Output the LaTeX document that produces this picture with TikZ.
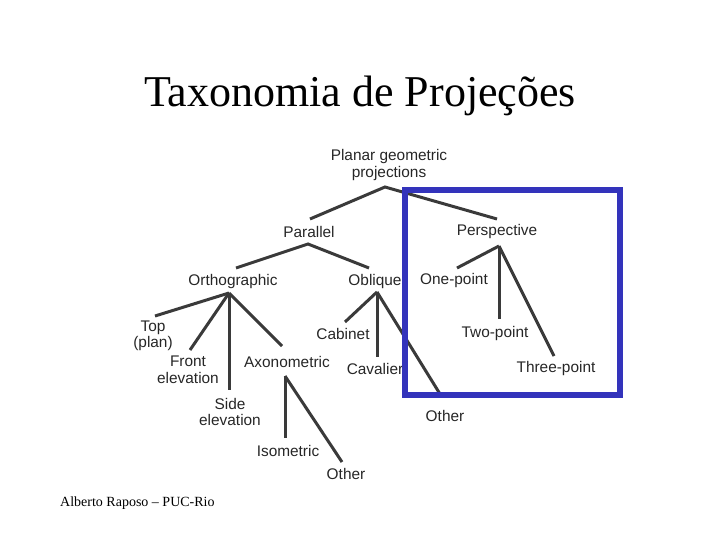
\documentclass[tikz,border=0pt]{standalone}
\usepackage{fontspec}
\setmainfont{Liberation Serif}
\newfontfamily\arialfont{Liberation Sans}
\definecolor{linegray}{RGB}{58,58,58}
\definecolor{boxblue}{RGB}{51,51,187}
\begin{document}
\begin{tikzpicture}[x=1pt,y=-1pt,
  lbl/.style={font=\arialfont\fontsize{15.4}{16.5}\selectfont,align=center,inner sep=0pt,text=black!85},
  edge/.style={draw=linegray,line width=3pt},
  frame/.style={draw=boxblue,line width=6pt}]
\useasboundingbox (0,0) rectangle (720,540);
% title and footer
\node[anchor=base,inner sep=0pt] (title) at (360,107) {\fontsize{44}{48}\selectfont Taxonomia de Projeções};
\node[anchor=west,inner sep=0pt] (foot) at (60,503) {\fontsize{14}{16}\selectfont Alberto Raposo -- PUC-Rio};
% nodes
\node[lbl] (pgp) at (389,165) {Planar geometric\\projections};
\node[lbl] (par) at (309,232) {Parallel};
\node[lbl] (per) at (497,232) {Perspective};
\node[lbl] (ort) at (233,282) {Orthographic};
\node[lbl] (obl) at (375,282) {Oblique};
\node[lbl] (top) at (153,336) {Top\\(plan)};
\node[lbl] (fro) at (188,370) {Front\\elevation};
\node[lbl] (sid) at (230,412) {Side\\elevation};
\node[lbl] (axo) at (287,362) {Axonometric};
\node[lbl] (iso) at (288,451) {Isometric};
\node[lbl] (aot) at (346,474) {Other};
\node[lbl] (cab) at (343,334) {Cabinet};
\node[lbl] (cav) at (375,369) {Cavalier};
\node[lbl] (oot) at (445,416) {Other};
\node[lbl] (one) at (454,281) {One-point};
\node[lbl] (two) at (495,334) {Two-point};
\node[lbl] (thr) at (556,369) {Three-point};
% connector points
\coordinate (pgp-a) at (385,187);
\coordinate (par-t) at (310,219);
\coordinate (per-t) at (497,219);
\coordinate (par-a) at (308,244);
\coordinate (ort-t) at (236,268);
\coordinate (obl-t) at (369,268);
\coordinate (ort-a) at (229,293);
\coordinate (top-t) at (155,316);
\coordinate (fro-t) at (190,350);
\coordinate (sid-t) at (229,390);
\coordinate (axo-t) at (282,346);
\coordinate (axo-a) at (285,376);
\coordinate (iso-t) at (285,438);
\coordinate (aot-t) at (342,462);
\coordinate (obl-a) at (377,292);
\coordinate (cab-t) at (345,322);
\coordinate (cav-t) at (377,357);
\coordinate (oot-t) at (440,394);
\coordinate (per-a) at (499,246);
\coordinate (one-t) at (457,268);
\coordinate (two-t) at (499,319);
\coordinate (thr-t) at (554,356);
% connectors
\draw[edge] (par-t) -- (pgp-a) -- (per-t);
\draw[edge] (ort-t) -- (par-a) -- (obl-t);
\draw[edge] (ort-a) -- (top-t);
\draw[edge] (ort-a) -- (fro-t);
\draw[edge] (ort-a) -- (sid-t);
\draw[edge] (ort-a) -- (axo-t);
\draw[edge] (axo-a) -- (iso-t);
\draw[edge] (axo-a) -- (aot-t);
\draw[edge] (obl-a) -- (cab-t);
\draw[edge] (obl-a) -- (cav-t);
\draw[edge] (obl-a) -- (oot-t);
\draw[edge] (per-a) -- (one-t);
\draw[edge] (per-a) -- (two-t);
\draw[edge] (per-a) -- (thr-t);
% highlight frame
\draw[frame] (405,190) rectangle (620,395);
\end{tikzpicture}
\end{document}
